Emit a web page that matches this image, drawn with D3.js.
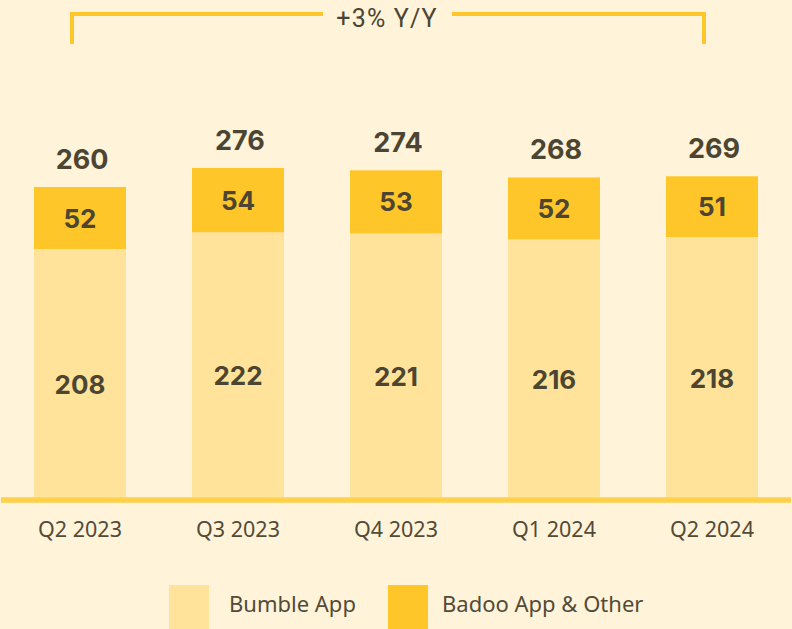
<!DOCTYPE html>
<html>
<head>
<meta charset="utf-8">
<script src="https://cdn.jsdelivr.net/npm/d3@7"></script>
<style>
  html, body { margin: 0; padding: 0; background: #FFF3D9; }
  svg { display: block; }
</style>
</head>
<body>
<svg id="chart" width="792" height="629"></svg>
<script>
const categories = ["Q2 2023", "Q3 2023", "Q4 2023", "Q1 2024", "Q2 2024"];
const bumbleApp = [208, 222, 221, 216, 218];
const badooOther = [52, 54, 53, 52, 51];
const totals = [260, 276, 274, 268, 269];
const seriesNames = ["Bumble App", "Badoo App & Other"];
const growthLabel = "+3% Y/Y";

const W = 792, H = 629;
const colors = { bg: "#FFF3D9", bumble: "#FFE39B", badoo: "#FFC629", base: "#FFD04A", text: "#4B4532", axisText: "#524B38" };

const svg = d3.select("#chart");
svg.append("rect").attr("width", W).attr("height", H).attr("fill", colors.bg);

const x = d3.scaleBand().domain(categories).range([1, 791]).paddingInner(66 / 158).paddingOuter(33 / 158);
const y = d3.scaleLinear().domain([0, 260]).range([497, 187]);

const data = categories.map((c, i) => ({ cat: c, bumble: bumbleApp[i], badoo: badooOther[i], total: totals[i] }));
const stack = d3.stack().keys(["bumble", "badoo"])(data);
const fills = [colors.bumble, colors.badoo];

const layers = svg.append("g").selectAll("g").data(stack).join("g").attr("fill", (d, i) => fills[i]);
layers.selectAll("rect").data(d => d).join("rect")
  .attr("x", d => x(d.data.cat))
  .attr("width", x.bandwidth())
  .attr("y", d => y(d[1]))
  .attr("height", d => y(d[0]) - y(d[1]));

// segment labels
const numFont = "Inter, 'Noto Sans', sans-serif";
stack.forEach((layer, li) => {
  svg.append("g").selectAll("text").data(layer).join("text")
    .attr("x", d => x(d.data.cat) + x.bandwidth() / 2)
    .attr("y", d => (y(d[0]) + y(d[1])) / 2 + (li === 0 ? 20.5 : 9.5))
    .attr("text-anchor", "middle")
    .attr("font-family", numFont)
    .attr("font-weight", 700)
    .attr("font-size", 26)
    .attr("fill", colors.text)
    .text(d => li === 0 ? d.data.bumble : d.data.badoo);
});

// totals
svg.append("g").selectAll("text").data(data).join("text")
  .attr("x", d => x(d.cat) + x.bandwidth() / 2 + 2)
  .attr("y", d => y(d.total) - 18)
  .attr("text-anchor", "middle")
  .attr("font-family", numFont)
  .attr("font-weight", 700)
  .attr("font-size", 27)
  .attr("fill", colors.text)
  .text(d => d.total);

// baseline
svg.append("line").attr("x1", 1).attr("x2", 791).attr("y1", 500).attr("y2", 500)
  .attr("stroke", colors.base).attr("stroke-width", 5.5);

// x axis
const xAxis = svg.append("g").attr("transform", "translate(0,503)")
  .call(d3.axisBottom(x).tickSize(0).tickPadding(19));
xAxis.select(".domain").remove();
xAxis.selectAll("text")
  .attr("font-family", "'Noto Sans', sans-serif")
  .attr("font-size", 21.5)
  .attr("fill", colors.axisText);

// bracket
const leftX = 72, rightX = 704, topY = 14, botY = 44;
const bracket = svg.append("g").attr("stroke", colors.badoo).attr("stroke-width", 4).attr("fill", "none");
bracket.append("path").attr("d", `M${leftX},${botY}V${topY}H323`);
bracket.append("path").attr("d", `M452,${topY}H${rightX}V${botY}`);
svg.append("text").attr("x", 387).attr("y", 26.5).attr("text-anchor", "middle")
  .attr("font-family", "Roboto, sans-serif").attr("font-size", 25).attr("letter-spacing", 1.2)
  .attr("fill", colors.text).text(growthLabel);

// legend
const legend = svg.append("g");
const legendItems = [{ name: seriesNames[0], color: colors.bumble, sx: 169, tx: 229 }, { name: seriesNames[1], color: colors.badoo, sx: 388, tx: 442 }];
legendItems.forEach(it => {
  legend.append("rect").attr("x", it.sx).attr("y", 585).attr("width", 40).attr("height", 44).attr("fill", it.color);
  legend.append("text").attr("x", it.tx).attr("y", 612)
    .attr("font-family", "'Noto Sans', sans-serif").attr("font-size", 22)
    .attr("fill", colors.axisText).text(it.name);
});
</script>
</body>
</html>
